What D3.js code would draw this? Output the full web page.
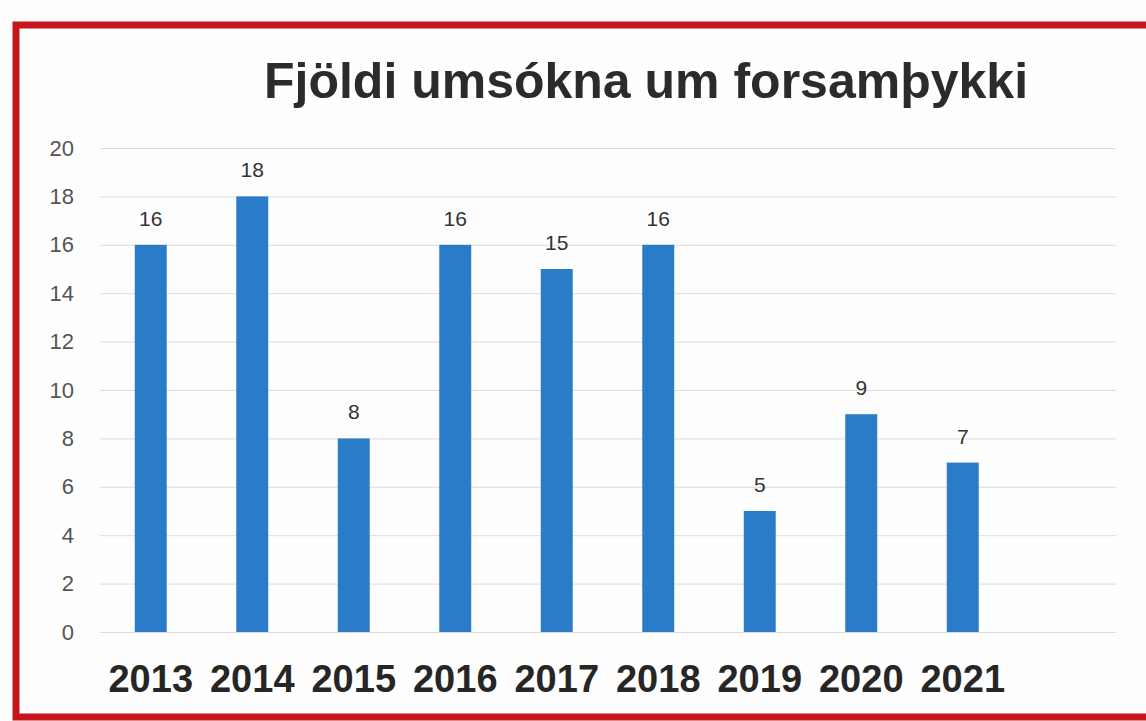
<!DOCTYPE html>
<html>
<head>
<meta charset="utf-8">
<script src="https://cdn.jsdelivr.net/npm/d3@7"></script>
<style>
  html, body { margin: 0; padding: 0; background: #fdfdfd; }
  svg { display: block; }
</style>
</head>
<body>
<script>
// chart data
const years = ["2013", "2014", "2015", "2016", "2017", "2018", "2019", "2020", "2021"];
const counts = [16, 18, 8, 16, 15, 16, 5, 9, 7];
const yTicks = [0, 2, 4, 6, 8, 10, 12, 14, 16, 18, 20];
const title = "Fjöldi umsókna um forsamþykki";

const width = 1146, height = 721;
const margin = { top: 148, right: 1146 - 1116, bottom: 721 - 632, left: 100 };

const svg = d3.select("body").append("svg")
  .attr("width", width)
  .attr("height", height);

// red frame, right side runs off the page
svg.append("rect")
  .attr("x", 16)
  .attr("y", 25)
  .attr("width", 1160)
  .attr("height", 692)
  .attr("fill", "#fefefe")
  .attr("stroke", "#c4161c")
  .attr("stroke-width", 7);

const x = d3.scaleBand()
  .domain(years)
  .range([margin.left, margin.left + 9 * 101.5])
  .paddingInner(0.685)
  .paddingOuter(0.3425);

const y = d3.scaleLinear()
  .domain([0, 20])
  .range([height - margin.bottom, margin.top]);

// grid lines
svg.append("g")
  .selectAll("line")
  .data(yTicks)
  .join("line")
  .attr("x1", margin.left)
  .attr("x2", width - margin.right)
  .attr("y1", d => y(d) + 0.5)
  .attr("y2", d => y(d) + 0.5)
  .attr("stroke", "#dcdcdc")
  .attr("stroke-width", 1);

// y axis labels
const yAxis = d3.axisLeft(y).tickValues(yTicks).tickSize(0).tickPadding(0);
svg.append("g")
  .attr("transform", `translate(74,0)`)
  .call(yAxis)
  .call(g => g.select(".domain").remove())
  .call(g => g.selectAll("text")
    .attr("font-family", "Liberation Sans, Arial, sans-serif")
    .attr("font-size", 22)
    .attr("fill", "#555"));

// bars
svg.append("g")
  .selectAll("rect")
  .data(counts)
  .join("rect")
  .attr("x", (d, i) => x(years[i]))
  .attr("y", d => y(d))
  .attr("width", x.bandwidth())
  .attr("height", d => y(0) - y(d))
  .attr("fill", "#2a7bc8");

// value labels
svg.append("g")
  .selectAll("text")
  .data(counts)
  .join("text")
  .attr("x", (d, i) => x(years[i]) + x.bandwidth() / 2)
  .attr("y", d => y(d) - 19)
  .attr("text-anchor", "middle")
  .attr("font-family", "Liberation Sans, Arial, sans-serif")
  .attr("font-size", 21)
  .attr("fill", "#333")
  .text(d => d);

// x axis labels
const xAxis = d3.axisBottom(x).tickSize(0).tickPadding(0);
svg.append("g")
  .attr("transform", `translate(0,${y(0) + 33})`)
  .call(xAxis)
  .call(g => g.select(".domain").remove())
  .call(g => g.selectAll("text")
    .attr("dy", "0.71em")
    .attr("font-family", "Liberation Sans, Arial, sans-serif")
    .attr("font-weight", "bold")
    .attr("font-size", 38)
    .attr("fill", "#262626"));

// title
svg.append("text")
  .attr("x", 646)
  .attr("y", 98)
  .attr("text-anchor", "middle")
  .attr("font-family", "Liberation Sans, Arial, sans-serif")
  .attr("font-weight", "bold")
  .attr("font-size", 50)
  .attr("fill", "#2b2b2b")
  .text(title);
</script>
</body>
</html>
